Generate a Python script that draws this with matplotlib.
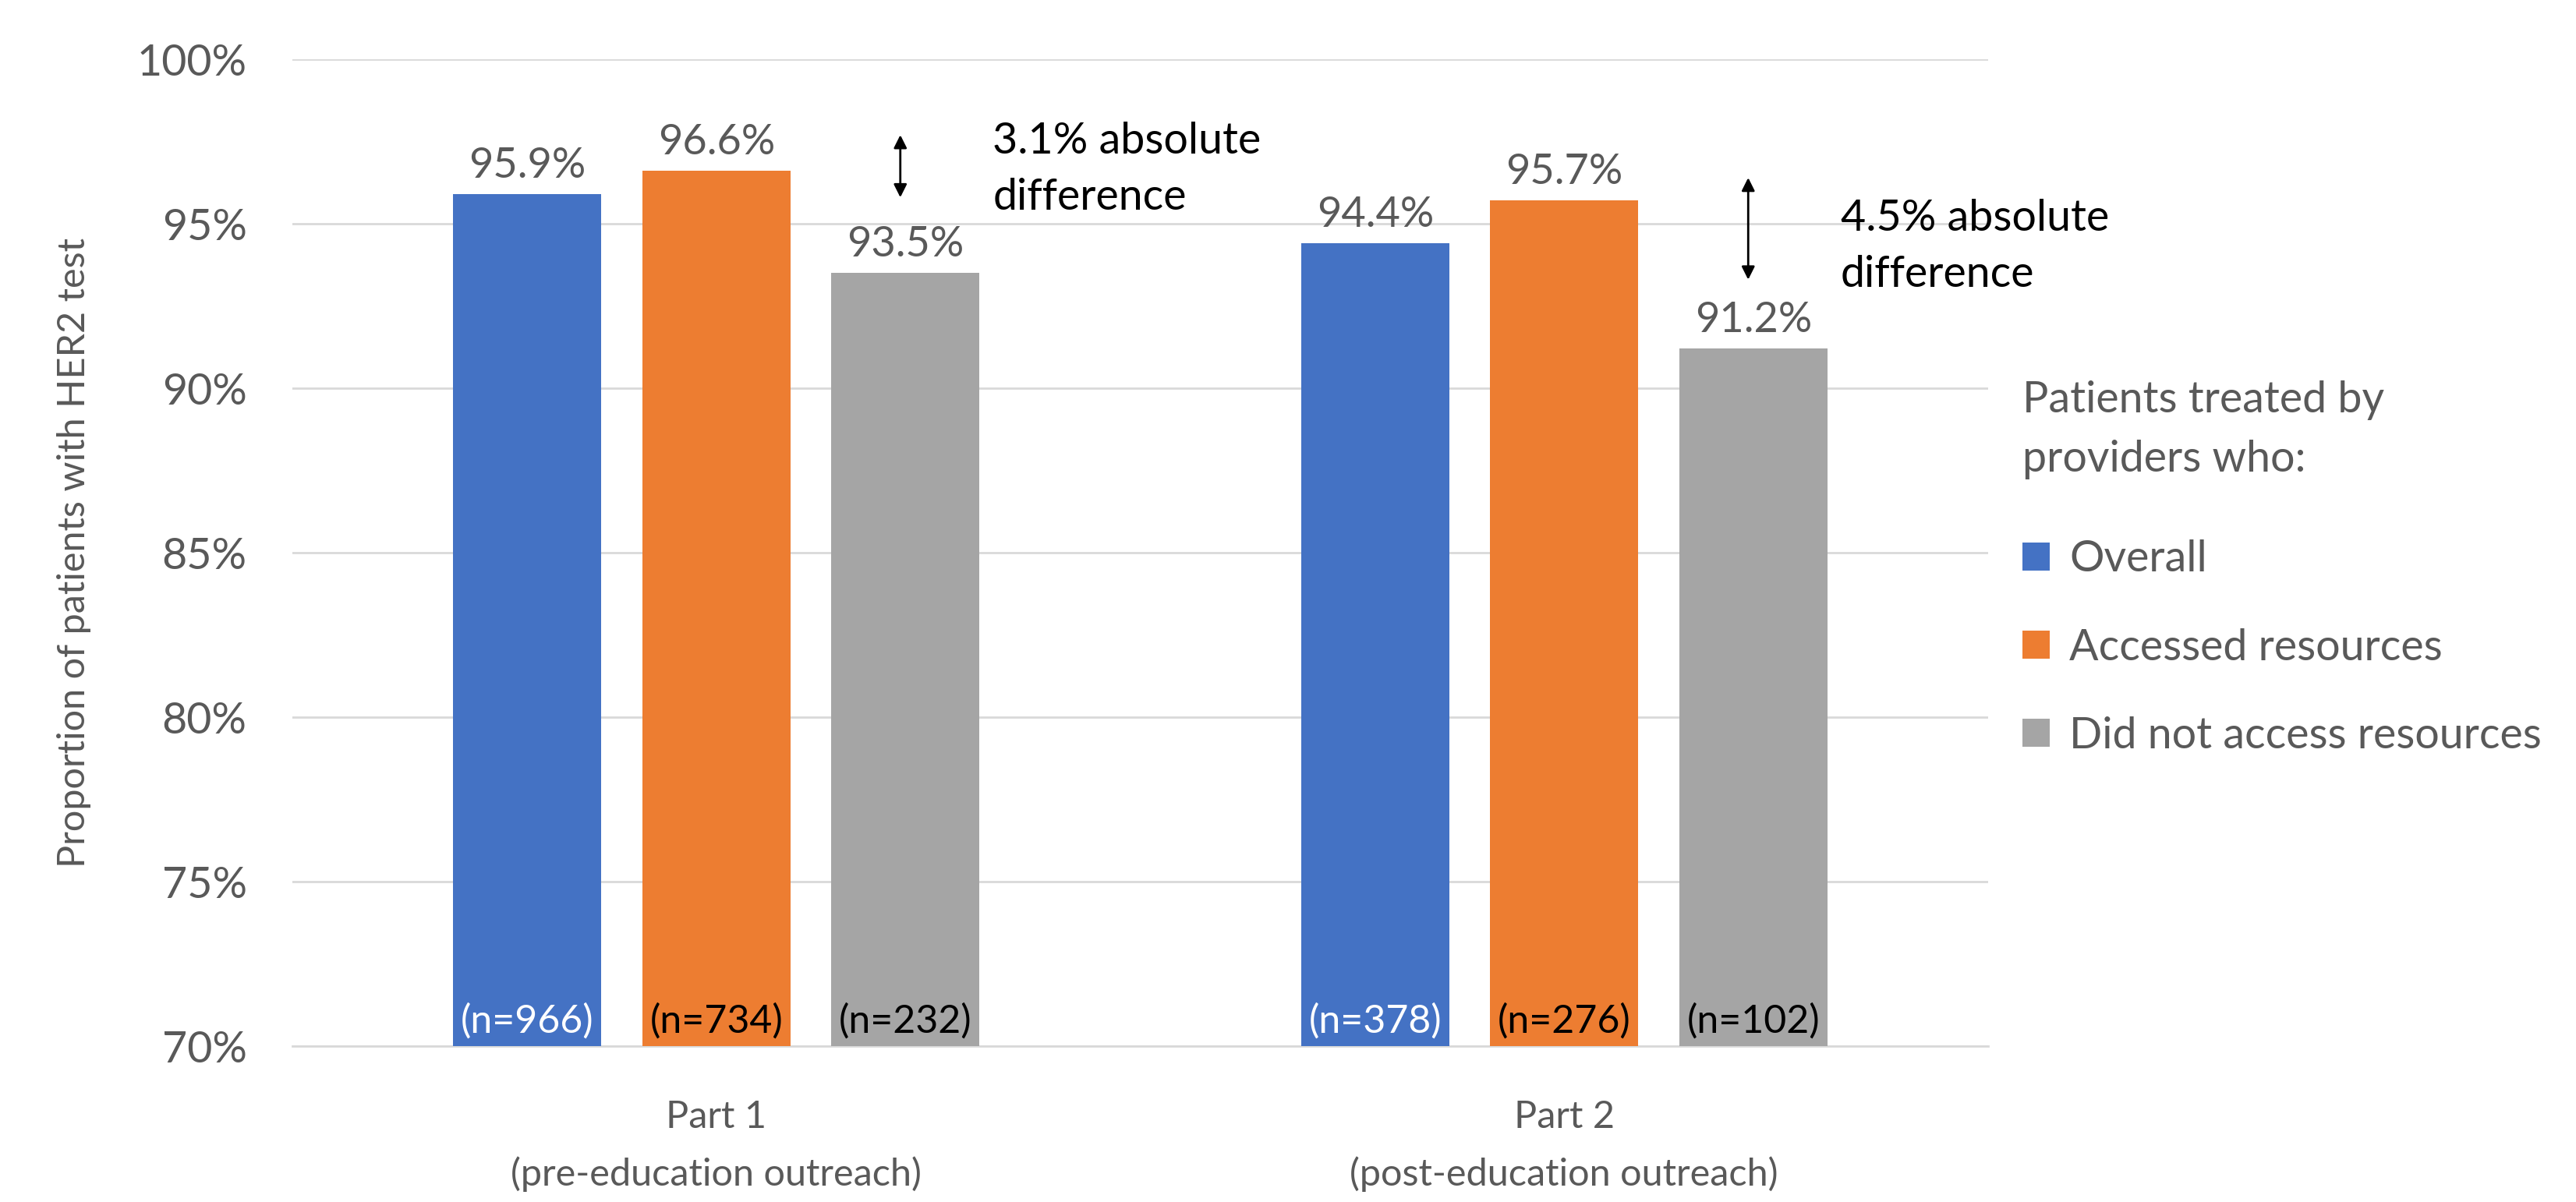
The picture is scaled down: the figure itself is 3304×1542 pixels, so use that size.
import matplotlib.pyplot as plt
import numpy as np

plt.rcParams['font.family'] = ['Lato', 'DejaVu Sans']

# data
parts = ['Part 1\n(pre-education outreach)', 'Part 2\n(post-education outreach)']
series = ['Overall', 'Accessed resources', 'Did not access resources']
overall = [95.9, 94.4]
accessed = [96.6, 95.7]
not_accessed = [93.5, 91.2]
n_overall = [966, 378]
n_accessed = [734, 276]
n_not_accessed = [232, 102]
diffs = ['3.1% absolute\ndifference', '4.5% absolute\ndifference']

colors = ['#4472C4', '#ED7D31', '#A5A5A5']
n_colors = ['white', 'black', 'black']
txt = '#595959'

fig = plt.figure(figsize=(33.04, 15.42), dpi=100)
ax = fig.add_axes([0.1135, 0.1297, 0.6583, 0.821])

x = np.arange(len(parts))
w = 0.175
step = 0.223
vals = [overall, accessed, not_accessed]
ns = [n_overall, n_accessed, n_not_accessed]

for i, (v, n) in enumerate(zip(vals, ns)):
    bars = ax.bar(x + (i - 1) * step, np.array(v) - 70, w, bottom=70,
                  color=colors[i], label=series[i], zorder=3)
    for b, val, nn in zip(bars, v, n):
        cx = b.get_x() + b.get_width() / 2
        ax.annotate(f'{val:.1f}%', (cx, val), xytext=(0, 9), textcoords='offset points',
                    ha='center', va='bottom', fontsize=39, color=txt)
        ax.text(cx, 70.2, f'(n={nn})', ha='center', va='bottom',
                fontsize=36, color=n_colors[i], zorder=4)

# difference arrows
arrow_y = [(97.7, 95.8), (96.4, 93.3)]
text_y = [96.65, 94.3]
for k in range(len(parts)):
    ax_x = x[k] + step - 0.006
    ax.annotate('', xy=(ax_x, arrow_y[k][0]), xytext=(ax_x, arrow_y[k][1]),
                arrowprops=dict(arrowstyle='<|-|>', color='black', lw=2,
                                mutation_scale=25, shrinkA=0, shrinkB=0))
    ax.text(x[k] + 0.326, text_y[k], diffs[k], ha='left', va='center',
            fontsize=40, color='black', linespacing=1.52)

ax.set_ylim(70, 100)
ax.set_xlim(-0.5, 1.5)
ax.set_yticks(np.arange(70, 101, 5))
ax.set_yticklabels([f'{t}%' for t in range(70, 101, 5)])
ax.set_xticks(x)
ax.set_xticklabels(parts, linespacing=1.75)
ax.tick_params(length=0, colors=txt)
ax.tick_params(axis='x', labelsize=35, pad=50)
ax.tick_params(axis='y', labelsize=40, pad=42)
ax.grid(axis='y', color='#D9D9D9', lw=2, zorder=0)
for s in ['top', 'right', 'left']:
    ax.spines[s].set_visible(False)
ax.spines['bottom'].set_color('#D9D9D9')
ax.spines['bottom'].set_linewidth(2)
ax.set_ylabel('Proportion of patients with HER2 test', fontsize=35, color=txt, labelpad=42)

leg = fig.legend(loc='upper left', bbox_to_anchor=(0.77, 0.716), frameon=False,
                 title='Patients treated by\nproviders who:', fontsize=40,
                 title_fontsize=40, handlelength=0.63, handleheight=0.63,
                 handletextpad=0.45, labelspacing=1.12, alignment='left')
leg.get_title().set_color(txt)
leg.get_title().set_linespacing(1.6)
for t in leg.get_texts():
    t.set_color(txt)
leg._legend_box.sep = 56

fig.savefig('out.png', dpi=100)
